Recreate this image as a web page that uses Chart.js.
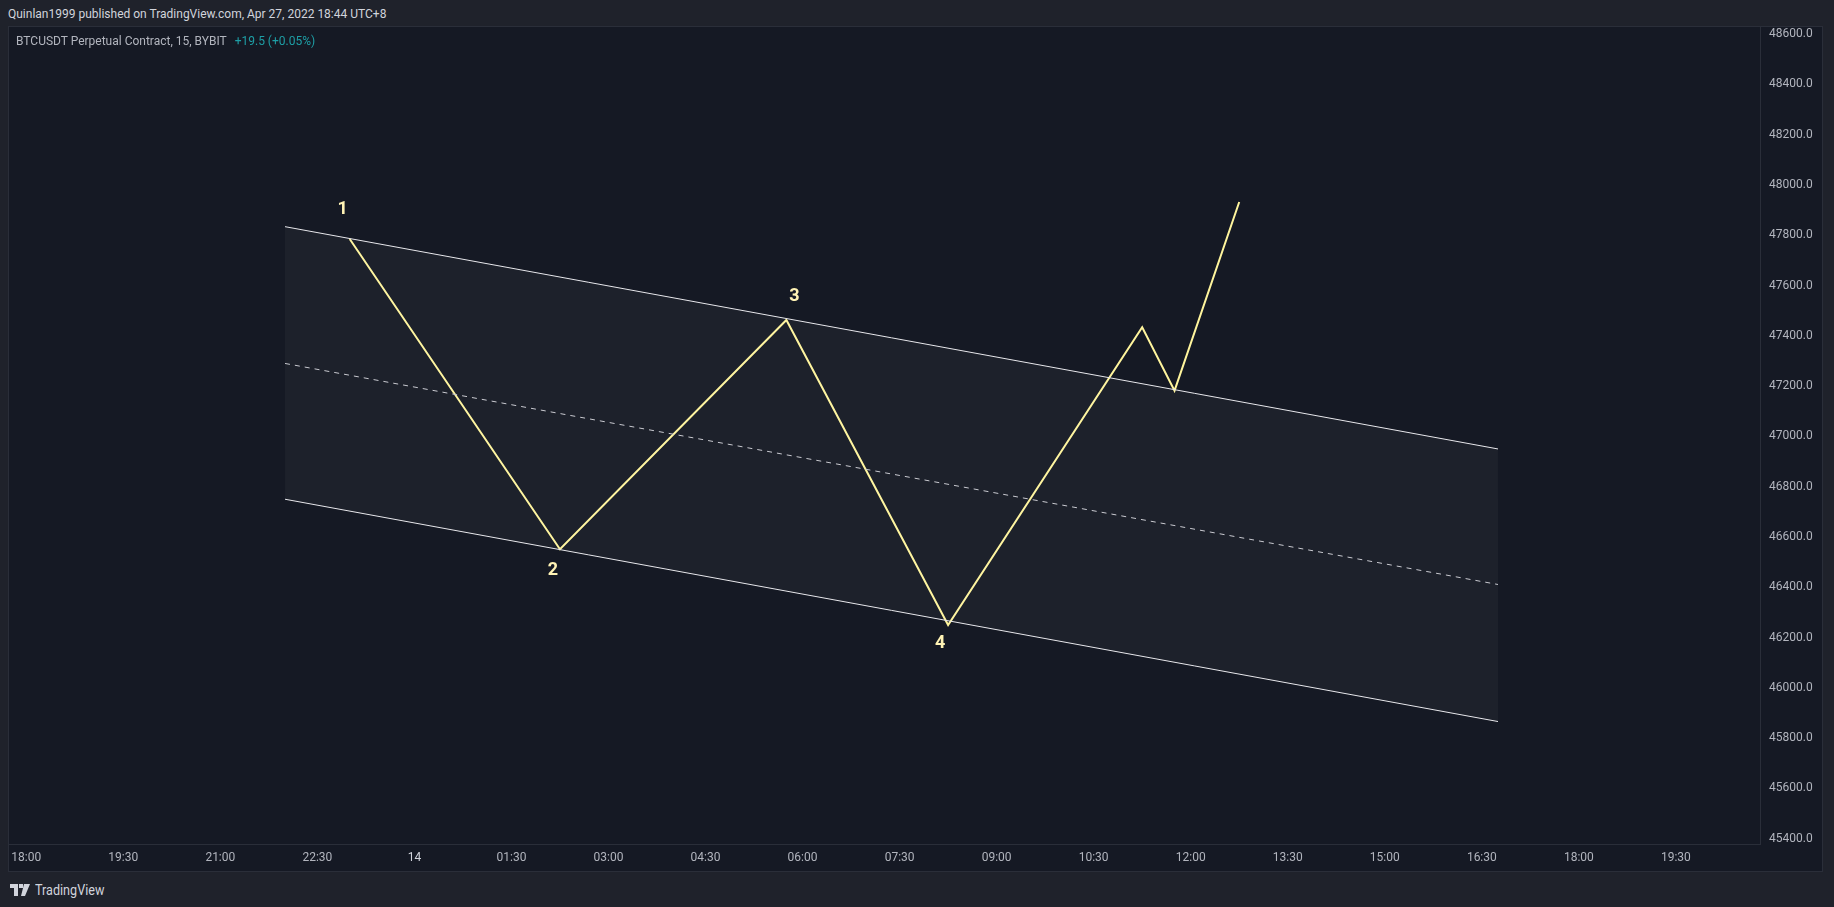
<!DOCTYPE html>
<html>
<head>
<meta charset="utf-8">
<script src="https://cdn.jsdelivr.net/npm/chart.js@4"></script>
<style>
  html, body { margin: 0; padding: 0; }
  body { width: 1834px; height: 907px; background: #1f222b; position: relative; overflow: hidden;
         font-family: Roboto, 'Noto Sans', sans-serif; }
  #head { position: absolute; left: 8px; top: 7px; font-size: 12px; color: #d1d4dc; white-space: nowrap; }
  #pane { position: absolute; left: 8px; top: 26px; width: 1813px; height: 844px;
          border: 1px solid #2a2e39; background: #151924; }
  #pane canvas { position: absolute; left: 0; top: 0; }
  #title { position: absolute; left: 16px; top: 34px; font-size: 12px; color: #b2b5be; z-index: 2; white-space: nowrap; }
  #title span { color: #1e9fa6; margin-left: 8px; }
  #logo { position: absolute; left: 10px; top: 882px; font-size: 14px; color: #d1d4dc; display: flex; align-items: center; }
  #logo svg { margin-right: 4px; }
  #logo b { font-weight: normal; display: inline-block; transform: scaleX(0.9); transform-origin: left center; }
</style>
</head>
<body>
<div id="head">Quinlan1999 published on TradingView.com, Apr 27, 2022 18:44 UTC+8</div>
<div id="pane"><canvas id="chart" width="1813" height="844"></canvas></div>
<div id="title">BTCUSDT Perpetual Contract, 15, BYBIT<span>+19.5 (+0.05%)</span></div>
<div id="logo">
  <svg width="21" height="12" viewBox="0 0 21 12"><path d="M0 0h8v12H4V4H0z M9 0h4v4H9z M14 0h6l-5 12h-4z" fill="#d1d4dc"/></svg>
  <b>TradingView</b>
</div>
<script>
// time in minutes from 14 00:00, prices in USDT
var timeTicks = [-360, -270, -180, -90, 0, 90, 180, 270, 360, 450, 540, 630, 720, 810, 900, 990, 1080, 1170];
var timeLabels = ['18:00', '19:30', '21:00', '22:30', '14', '01:30', '03:00', '04:30', '06:00', '07:30',
                  '09:00', '10:30', '12:00', '13:30', '15:00', '16:30', '18:00', '19:30'];
var priceTicks = [45400, 45600, 45800, 46000, 46200, 46400, 46600, 46800, 47000,
                  47200, 47400, 47600, 47800, 48000, 48200, 48400, 48600];

var channelTime = [-120, 1005];
var channelUpper = [47834, 46950];
var channelMid = [47290, 46411];
var channelLower = [46750, 45866];

var waveTime = [-60, 135, 345, 495, 675, 705, 765];
var wavePrice = [47785, 46551, 47463, 46250, 47434, 47182, 47932];
var waveLabels = ['1', '2', '3', '4', '', '', ''];

function pts(xs, ys) {
    return xs.map(function (x, i) { return { x: x, y: ys[i] }; });
}

// offsets of the wave numbers from their pivots
var labelOffsets = [[-7, -29], [-7, 21], [8, -23], [-8, 19]];

var waveNumbers = {
    id: 'waveNumbers',
    afterDatasetsDraw: function (chart) {
        var ctx = chart.ctx;
        var meta = chart.getDatasetMeta(3);
        ctx.save();
        ctx.font = 'bold 18px Roboto, sans-serif';
        ctx.fillStyle = '#fff3b5';
        ctx.textAlign = 'center';
        ctx.textBaseline = 'middle';
        meta.data.forEach(function (p, i) {
            if (!waveLabels[i]) return;
            var o = labelOffsets[i];
            ctx.fillText(waveLabels[i], p.x + o[0], p.y + o[1]);
        });
        ctx.restore();
    }
};

var ctx = document.getElementById('chart').getContext('2d');
new Chart(ctx, {
    type: 'line',
    data: {
        datasets: [
            { data: pts(channelTime, channelUpper), borderColor: '#e8e8ec', borderWidth: 1, pointRadius: 0, fill: false },
            { data: pts(channelTime, channelLower), borderColor: '#e8e8ec', borderWidth: 1, pointRadius: 0,
              fill: '-1', backgroundColor: 'rgba(255,255,255,0.035)' },
            { data: pts(channelTime, channelMid), borderColor: '#c9cad0', borderWidth: 1, borderDash: [5, 5], pointRadius: 0, fill: false },
            { data: pts(waveTime, wavePrice), borderColor: '#fff59d', borderWidth: 2, pointRadius: 0, fill: false }
        ]
    },
    options: {
        responsive: false,
        animation: false,
        events: [],
        layout: { padding: 0 },
        plugins: { legend: { display: false }, tooltip: { enabled: false } },
        elements: { line: { tension: 0 } },
        scales: {
            x: {
                type: 'linear',
                min: -376,
                max: 1248,
                grid: { display: false, drawTicks: false },
                border: { display: true, color: '#2a2e39' },
                afterBuildTicks: function (s) { s.ticks = timeTicks.map(function (v) { return { value: v }; }); },
                afterFit: function (s) { s.height = 27; s.paddingLeft = 0; s.paddingRight = 0; },
                ticks: {
                    autoSkip: false,
                    maxRotation: 0,
                    padding: 7,
                    color: function (c) { return c.tick && c.tick.value === 0 ? '#d1d4dc' : '#b2b5be'; },
                    font: { family: 'Roboto, sans-serif', size: 12 },
                    callback: function (v, i) { return timeLabels[i]; }
                }
            },
            y: {
                type: 'linear',
                position: 'right',
                min: 45379,
                max: 48628,
                grid: { display: false, drawTicks: false },
                border: { display: true, color: '#2a2e39' },
                afterBuildTicks: function (s) { s.ticks = priceTicks.map(function (v) { return { value: v }; }); },
                afterFit: function (s) { s.width = 62; s.paddingTop = 0; s.paddingBottom = 0; },
                ticks: {
                    padding: 9,
                    crossAlign: 'near',
                    color: '#b2b5be',
                    font: { family: 'Roboto, sans-serif', size: 12 },
                    callback: function (v) { return v.toFixed(1); }
                }
            }
        }
    },
    plugins: [waveNumbers]
});
</script>
</body>
</html>
